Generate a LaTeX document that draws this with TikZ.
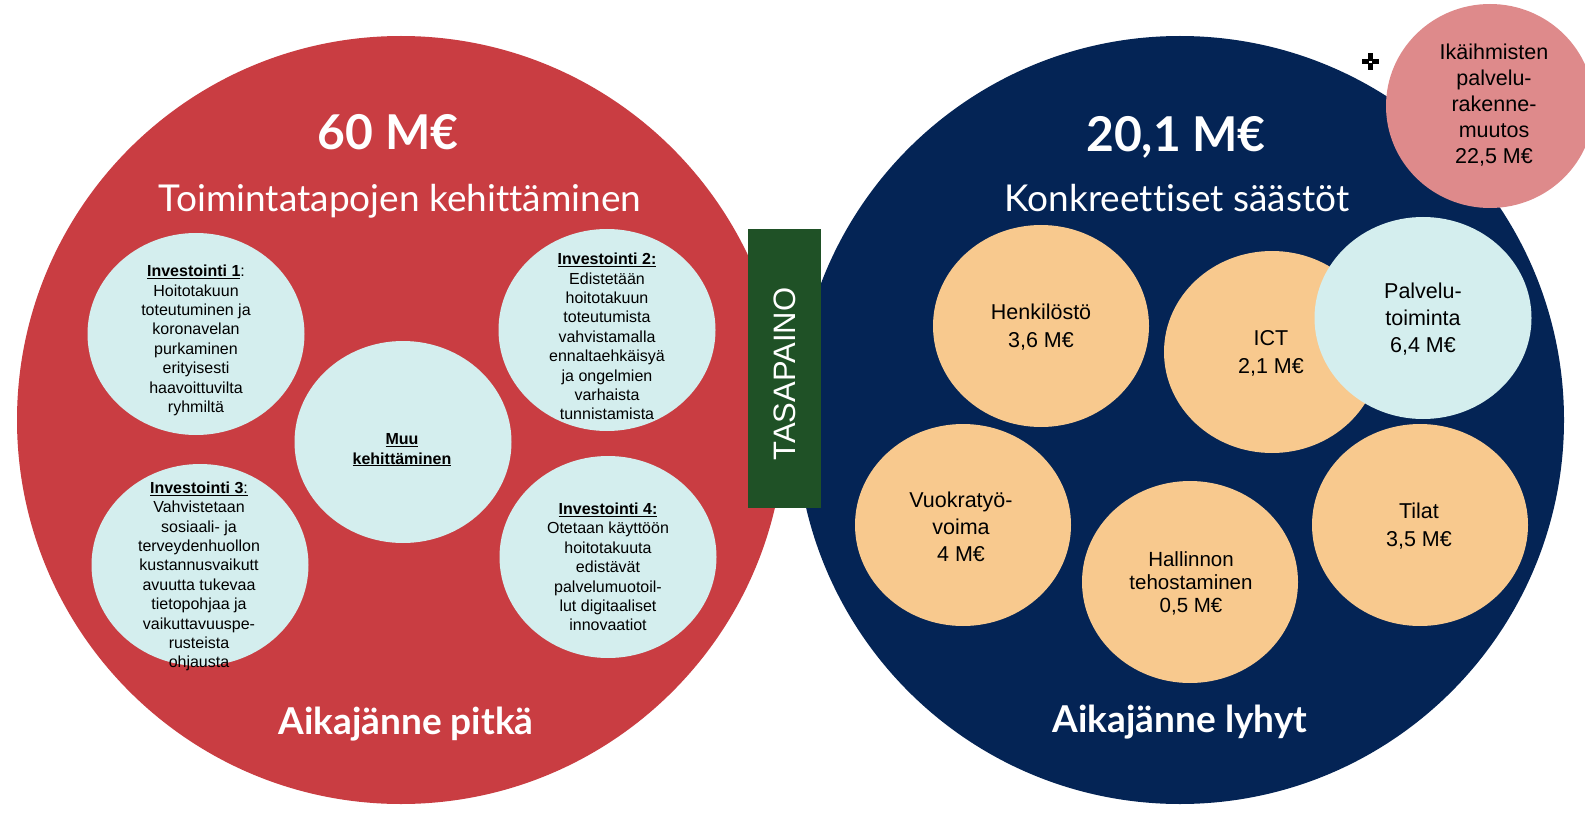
\documentclass[tikz,border=0pt]{standalone}
\usepackage{fontspec}
\setmainfont{Liberation Sans}
\newfontfamily\latofont[Ligatures=NoCommon]{Lato}
\usetikzlibrary{shapes.geometric}
\definecolor{cred}{HTML}{C93D42}
\definecolor{cblue}{HTML}{042455}
\definecolor{ccyan}{HTML}{D4EEEE}
\definecolor{corange}{HTML}{F8C98E}
\definecolor{cpink}{HTML}{DE8A8B}
\definecolor{cgreen}{HTML}{1F5126}
\begin{document}
\begin{tikzpicture}[x=1pt,y=-1pt,
  bigcirc/.style={circle, inner sep=0pt, minimum size=768pt},
  cyanell/.style={ellipse, inner sep=0pt, minimum width=217pt, minimum height=202pt, fill=ccyan},
  orangeell/.style={ellipse, inner sep=0pt, minimum width=216pt, minimum height=202pt, fill=corange},
  smalltxt/.style={align=center, inner sep=0pt, font=\fontsize{16}{19.4}\selectfont, text=black},
  righttxt/.style={align=center, inner sep=0pt, font=\fontsize{21.5}{28}\selectfont, text=black},
  amount/.style={text=white, inner sep=0pt, anchor=base, font=\latofont\bfseries\fontsize{48}{58}\selectfont},
  subtitle/.style={text=white, inner sep=0pt, anchor=base, font=\latofont\fontsize{37}{44}\selectfont},
  spantxt/.style={text=white, inner sep=0pt, anchor=base, font=\latofont\bfseries\fontsize{37}{42}\selectfont},
]
\useasboundingbox (0,0) rectangle (1585,813);
\fill[white] (0,0) rectangle (1585,813);

% big circles
\node[bigcirc, fill=cred] (left) at (401,420) {};
\node[bigcirc, fill=cblue] (right) at (1180,420) {};

% titles
\node[amount] (amL) at (388,150) {60 M€};
\node[subtitle] (subL) at (400,212) {Toimintatapojen kehittäminen};
\node[spantxt] (spanL) at (406,734) {Aikajänne pitkä};
\node[amount] (amR) at (1176,152) {20,1 M€};
\node[subtitle] (subR) at (1177,212) {Konkreettiset säästöt};
\node[spantxt] (spanR) at (1180,732) {Aikajänne lyhyt};

% left small ellipses
\node[cyanell] (inv1) at (196,334) {};
\node[cyanell] (inv2) at (607,330) {};
\node[cyanell] (muu) at (403,442) {};
\node[cyanell] (inv3) at (200,565) {};
\node[cyanell] (inv4) at (608,557) {};

\node[smalltxt] (t1) at (196,340.5) {\underline{\textbf{Investointi 1}}:\\Hoitotakuun\\toteutuminen ja\\koronavelan\\purkaminen\\erityisesti\\haavoittuvilta\\ryhmiltä};
\node[smalltxt] (t2) at (607,336.5) {\underline{\textbf{Investointi 2:}}\\Edistetään\\hoitotakuun\\toteutumista\\vahvistamalla\\ennaltaehkäisyä\\ja ongelmien\\varhaista\\tunnistamista};
\node[smalltxt] (tm) at (402,450) {\underline{\textbf{Muu}}\\\underline{\textbf{kehittäminen}}};
\node[smalltxt] (t3) at (199,576.5) {\underline{\textbf{Investointi 3}:}\\Vahvistetaan\\sosiaali- ja\\terveydenhuollon\\kustannusvaikutt\\avuutta tukevaa\\tietopohjaa ja\\vaikuttavuuspe-\\rusteista\\ohjausta};
\node[smalltxt] (t4) at (608,567) {\underline{\textbf{Investointi 4:}}\\Otetaan käyttöön\\hoitotakuuta\\edistävät\\palvelumuotoil-\\lut digitaaliset\\innovaatiot};

% right ellipses
\node[orangeell] (henk) at (1041,326) {};
\node[orangeell] (ict) at (1272,352) {};
\node[cyanell] (palv) at (1423,318) {};
\node[orangeell] (vuok) at (963,525) {};
\node[orangeell] (hall) at (1190,582) {};
\node[orangeell] (tila) at (1420,525) {};

\node[righttxt] (th) at (1041,327.5) {Henkilöstö\\3,6 M€};
\node[righttxt] (ti) at (1271,353) {ICT\\2,1 M€};
\node[righttxt, font=\fontsize{21.5}{27}\selectfont] (tp) at (1423,319.5) {Palvelu-\\toiminta\\6,4 M€};
\node[righttxt, font=\fontsize{21.5}{27}\selectfont] (tv) at (961,526.5) {Vuokratyö-\\voima\\4 M€};
\node[righttxt, font=\fontsize{20.5}{23}\selectfont] (thl) at (1191,583.5) {Hallinnon\\tehostaminen\\0,5 M€};
\node[righttxt] (tt) at (1419,526.5) {Tilat\\3,5 M€};

% pink circle
\node[ellipse, inner sep=0pt, minimum width=208pt, minimum height=204pt, fill=cpink] (pink) at (1490,106) {};
\node[righttxt, font=\fontsize{21.5}{26.2}\selectfont] (tpk) at (1494,105) {Ikäihmisten\\palvelu-\\rakenne-\\muutos\\22,5 M€};

% plus mark
\fill[black] (1362,59.5) rectangle (1379,64.5);
\fill[black] (1368,53.5) rectangle (1373,70.5);
\fill[white] (1369.3,60.8) rectangle (1371.7,63.2);

% balance box
\node[fill=cgreen, inner sep=0pt, minimum width=73pt, minimum height=279pt] (box) at (784.5,368.5) {};
\node[rotate=90, text=white, inner sep=0pt, font=\fontsize{31}{36}\selectfont] (boxt) at (785,374) {TASAPAINO};
\end{tikzpicture}
\end{document}
